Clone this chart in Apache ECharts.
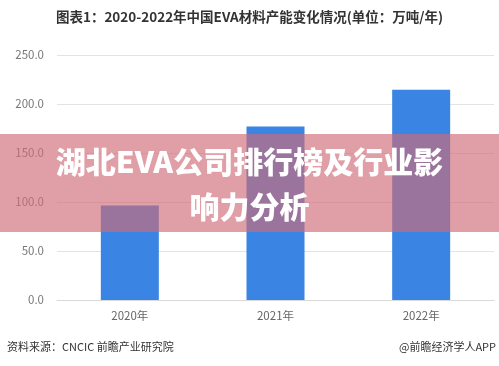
<!DOCTYPE html>
<html><head><meta charset="utf-8">
<script src="https://cdn.jsdelivr.net/npm/echarts@6/dist/echarts.min.js"></script>
<style>html,body{margin:0;padding:0;background:#fff;}#c{width:499px;height:366px;}</style>
</head><body><div id="c"></div>
<script>
var categories = ['2020年', '2021年', '2022年'];
var capacity = [96.5, 177, 214.5];
var yTicks = [0, 50, 100, 150, 200, 250];
var titleText = '图表1：2020-2022年中国EVA材料产能变化情况(单位：万吨/年)';
var overlayText = '湖北EVA公司排行榜及行业影\n响力分析';
var sourceText = '资料来源：CNCIC 前瞻产业研究院';
var brandText = '@前瞻经济学人APP';
var font = '"Noto Sans CJK SC", "Noto Sans", sans-serif';

var chart = echarts.init(document.getElementById('c'), null, {renderer: 'canvas'});
chart.setOption({
  backgroundColor: '#ffffff',
  animation: false,
  title: {
    text: titleText, left: 'center', top: 5,
    textStyle: {fontFamily: font, fontSize: 13.5, fontWeight: 'bold', color: '#333'}
  },
  grid: {left: 57, right: 5, top: 55, bottom: 66},
  xAxis: {
    type: 'category', data: categories,
    axisLine: {lineStyle: {color: '#d9d9d9'}},
    axisTick: {show: false},
    axisLabel: {color: '#666', fontFamily: font, fontSize: 11.5, margin: 10}
  },
  yAxis: {
    type: 'value', min: yTicks[0], max: yTicks[yTicks.length - 1], interval: 50,
    axisLine: {show: false}, axisTick: {show: false},
    splitLine: {lineStyle: {color: '#e3e3e3'}},
    axisLabel: {color: '#777', fontFamily: font, fontSize: 11.5, margin: 13,
      formatter: function (v) { return v.toFixed(1); }}
  },
  series: [{
    type: 'bar', data: capacity, barWidth: 58,
    itemStyle: {color: '#3a84e4'}
  }],
  graphic: [
    {type: 'rect', left: 0, top: 134, z: 100,
     shape: {width: 499, height: 98},
     style: {fill: 'rgba(207,108,118,0.65)'}},
    {type: 'text', left: 'center', top: 139, z: 101,
     style: {text: overlayText, fill: '#fff', font: '900 30px ' + font,
       textAlign: 'center', lineHeight: 45}},
    {type: 'text', left: 7, top: 341, z: 10,
     style: {text: sourceText, fill: '#333', font: '11px ' + font}},
    {type: 'text', right: 3, top: 341, z: 10,
     style: {text: brandText, fill: '#333', font: '11px ' + font}}
  ]
});
</script></body></html>
